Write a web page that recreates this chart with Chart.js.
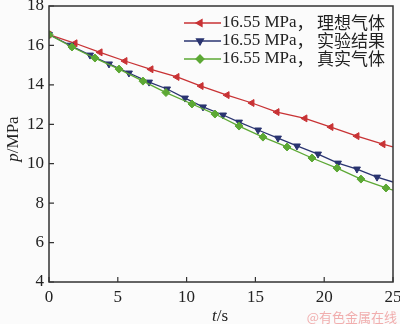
<!DOCTYPE html>
<html><head><meta charset="utf-8">
<script src="https://cdn.jsdelivr.net/npm/chart.js@4/dist/chart.umd.min.js"></script>
<style>html,body{margin:0;padding:0;background:#fbfbfb;}#wrap{width:400px;height:324px;}</style>
</head><body><div id="wrap"><canvas id="c" width="400" height="324"></canvas></div>
<script>
// Data
const seriesNames = ["16.55 MPa，理想气体", "16.55 MPa，实验结果", "16.55 MPa，真实气体"];
const idealT = [0, 1.89, 3.71, 5.52, 7.41, 9.30, 11.05, 12.94, 14.75, 16.57, 18.60, 20.49, 22.38, 24.27, 25];
const idealP = [16.55, 16.11, 15.65, 15.21, 14.79, 14.40, 13.94, 13.48, 13.08, 12.62, 12.30, 11.86, 11.40, 10.99, 10.85];
const expT = [0, 1.53, 2.98, 4.36, 5.81, 7.27, 8.58, 9.88, 11.19, 12.65, 13.81, 15.19, 16.64, 18.02, 19.55, 21.00, 22.38, 23.84, 25];
const expP = [16.55, 16.01, 15.51, 15.06, 14.60, 14.14, 13.79, 13.33, 12.88, 12.47, 12.11, 11.71, 11.30, 10.90, 10.49, 10.03, 9.73, 9.32, 9.07];
const realT = [0, 1.67, 3.34, 5.09, 6.83, 8.50, 10.39, 12.06, 13.81, 15.55, 17.30, 19.11, 20.93, 22.67, 24.49, 25];
const realP = [16.55, 15.92, 15.36, 14.80, 14.19, 13.61, 13.03, 12.52, 11.91, 11.35, 10.85, 10.29, 9.78, 9.22, 8.77, 8.66];
const xTicks = [0, 5, 10, 15, 20, 25];
const yTicks = [4, 6, 8, 10, 12, 14, 16, 18];

const colors = ["rgb(200,50,52)", "rgb(42,52,112)", "rgb(92,168,52)"];
const styles = [{s:'triangle', r:-90}, {s:'triangle', r:180}, {s:'rectRot', r:0}];
const serif = "'Liberation Serif', 'Times New Roman', serif";
const cjk = "'Noto Sans CJK SC', sans-serif";

function pts(t, p){ return t.map((v,i)=>({x:v, y:p[i]})); }
function radii(n){ return Array.from({length:n},(_, i)=> i===n-1 ? 0 : 4); }

const sets = [[idealT, idealP],[expT, expP],[realT, realP]].map((d,i)=>({
  label: seriesNames[i],
  data: pts(d[0], d[1]),
  borderColor: colors[i],
  backgroundColor: colors[i],
  borderWidth: 1.3,
  pointStyle: styles[i].s,
  pointRotation: styles[i].r,
  pointRadius: radii(d[0].length),
  pointBorderWidth: 1,
  tension: 0,
  order: 2 - i
}));

const deco = {
  id: 'deco',
  beforeDraw(chart){
    const c = chart.ctx; c.save(); c.fillStyle = '#fbfbfb'; c.fillRect(0,0,chart.width,chart.height); c.restore();
  },
  afterDraw(chart){
    const c = chart.ctx, a = chart.chartArea, xs = chart.scales.x, ys = chart.scales.y;
    c.save();
    c.strokeStyle = '#333'; c.lineWidth = 1.5;
    c.strokeRect(a.left, a.top, a.right - a.left, a.bottom - a.top);
    c.lineWidth = 1.2;
    c.beginPath();
    xTicks.forEach(v=>{ const px = xs.getPixelForValue(v); c.moveTo(px, a.bottom); c.lineTo(px, a.bottom-5); });
    yTicks.forEach(v=>{ const py = ys.getPixelForValue(v); c.moveTo(a.left, py); c.lineTo(a.left+5, py); });
    c.stroke();
    // axis titles
    c.fillStyle = '#222';
    c.font = "italic 17px " + serif;
    c.textBaseline = 'middle';
    const tw1 = c.measureText('t').width;
    c.font = "17px " + serif;
    const tw2 = c.measureText('/s').width;
    let x0 = 220 - (tw1+tw2)/2;
    c.font = "italic 17px " + serif; c.textAlign='left';
    c.fillText('t', x0, 317);
    c.font = "17px " + serif; c.fillText('/s', x0+tw1, 317);
    c.translate(14, 139);
    c.rotate(-Math.PI/2);
    c.font = "italic 17px " + serif;
    const pw1 = c.measureText('p').width;
    c.font = "17px " + serif;
    const pw2 = c.measureText('/MPa').width;
    let y0 = -(pw1+pw2)/2;
    c.font = "italic 17px " + serif; c.fillText('p', y0, 0);
    c.font = "17px " + serif; c.fillText('/MPa', y0+pw1, 0);
    c.setTransform(1,0,0,1,0,0);
    // legend
    const rowsY = [23, 41, 59];
    chart.data.datasets.forEach((ds, i)=>{
      const y = rowsY[i];
      c.strokeStyle = ds.borderColor; c.lineWidth = 1.3;
      c.beginPath(); c.moveTo(184, y); c.lineTo(221, y); c.stroke();
      c.fillStyle = ds.borderColor;
      Chart.helpers.drawPoint(c, {pointStyle: ds.pointStyle, rotation: ds.pointRotation, radius: 4, borderWidth: 1}, 200, y);
      c.fillStyle = '#222'; c.textAlign = 'left'; c.textBaseline = 'middle';
      const parts = ds.label.split('，');
      c.font = "17px " + serif;
      c.fillText(parts[0], 222, y);
      const w = c.measureText(parts[0]).width;
      c.font = "17px " + cjk;
      c.fillText('，', 222 + w, y);
      c.fillText(parts[1], 317, y);
    });
    // watermark
    c.fillStyle = 'rgba(238,160,160,0.85)';
    c.font = "13px " + cjk; c.textAlign = 'right'; c.textBaseline = 'middle';
    c.fillText('@有色金属在线', 397, 317);
    c.restore();
  }
};

new Chart(document.getElementById('c'), {
  type: 'line',
  data: { datasets: sets },
  options: {
    responsive: false,
    animation: false,
    layout: { padding: { top: 6, right: 7, left: 0, bottom: 0 } },
    plugins: { legend: { display: false }, tooltip: { enabled: false } },
    scales: {
      x: {
        type: 'linear', min: 0, max: 25,
        afterBuildTicks(s){ s.ticks = xTicks.map(v=>({value:v})); },
        afterFit(s){ s.height = 42; s.paddingLeft = 0; s.paddingRight = 0; },
        grid: { display: false, drawTicks: false },
        border: { display: false },
        ticks: { color: '#222', font: { family: serif, size: 17 }, padding: 5, maxRotation: 0 }
      },
      y: {
        type: 'linear', min: 4, max: 18,
        afterBuildTicks(s){ s.ticks = yTicks.map(v=>({value:v})); },
        afterFit(s){ s.width = 49; s.paddingTop = 0; s.paddingBottom = 0; },
        grid: { display: false, drawTicks: false },
        border: { display: false },
        ticks: { color: '#222', font: { family: serif, size: 17 }, padding: 5 }
      }
    }
  },
  plugins: [deco]
});
</script></body></html>
